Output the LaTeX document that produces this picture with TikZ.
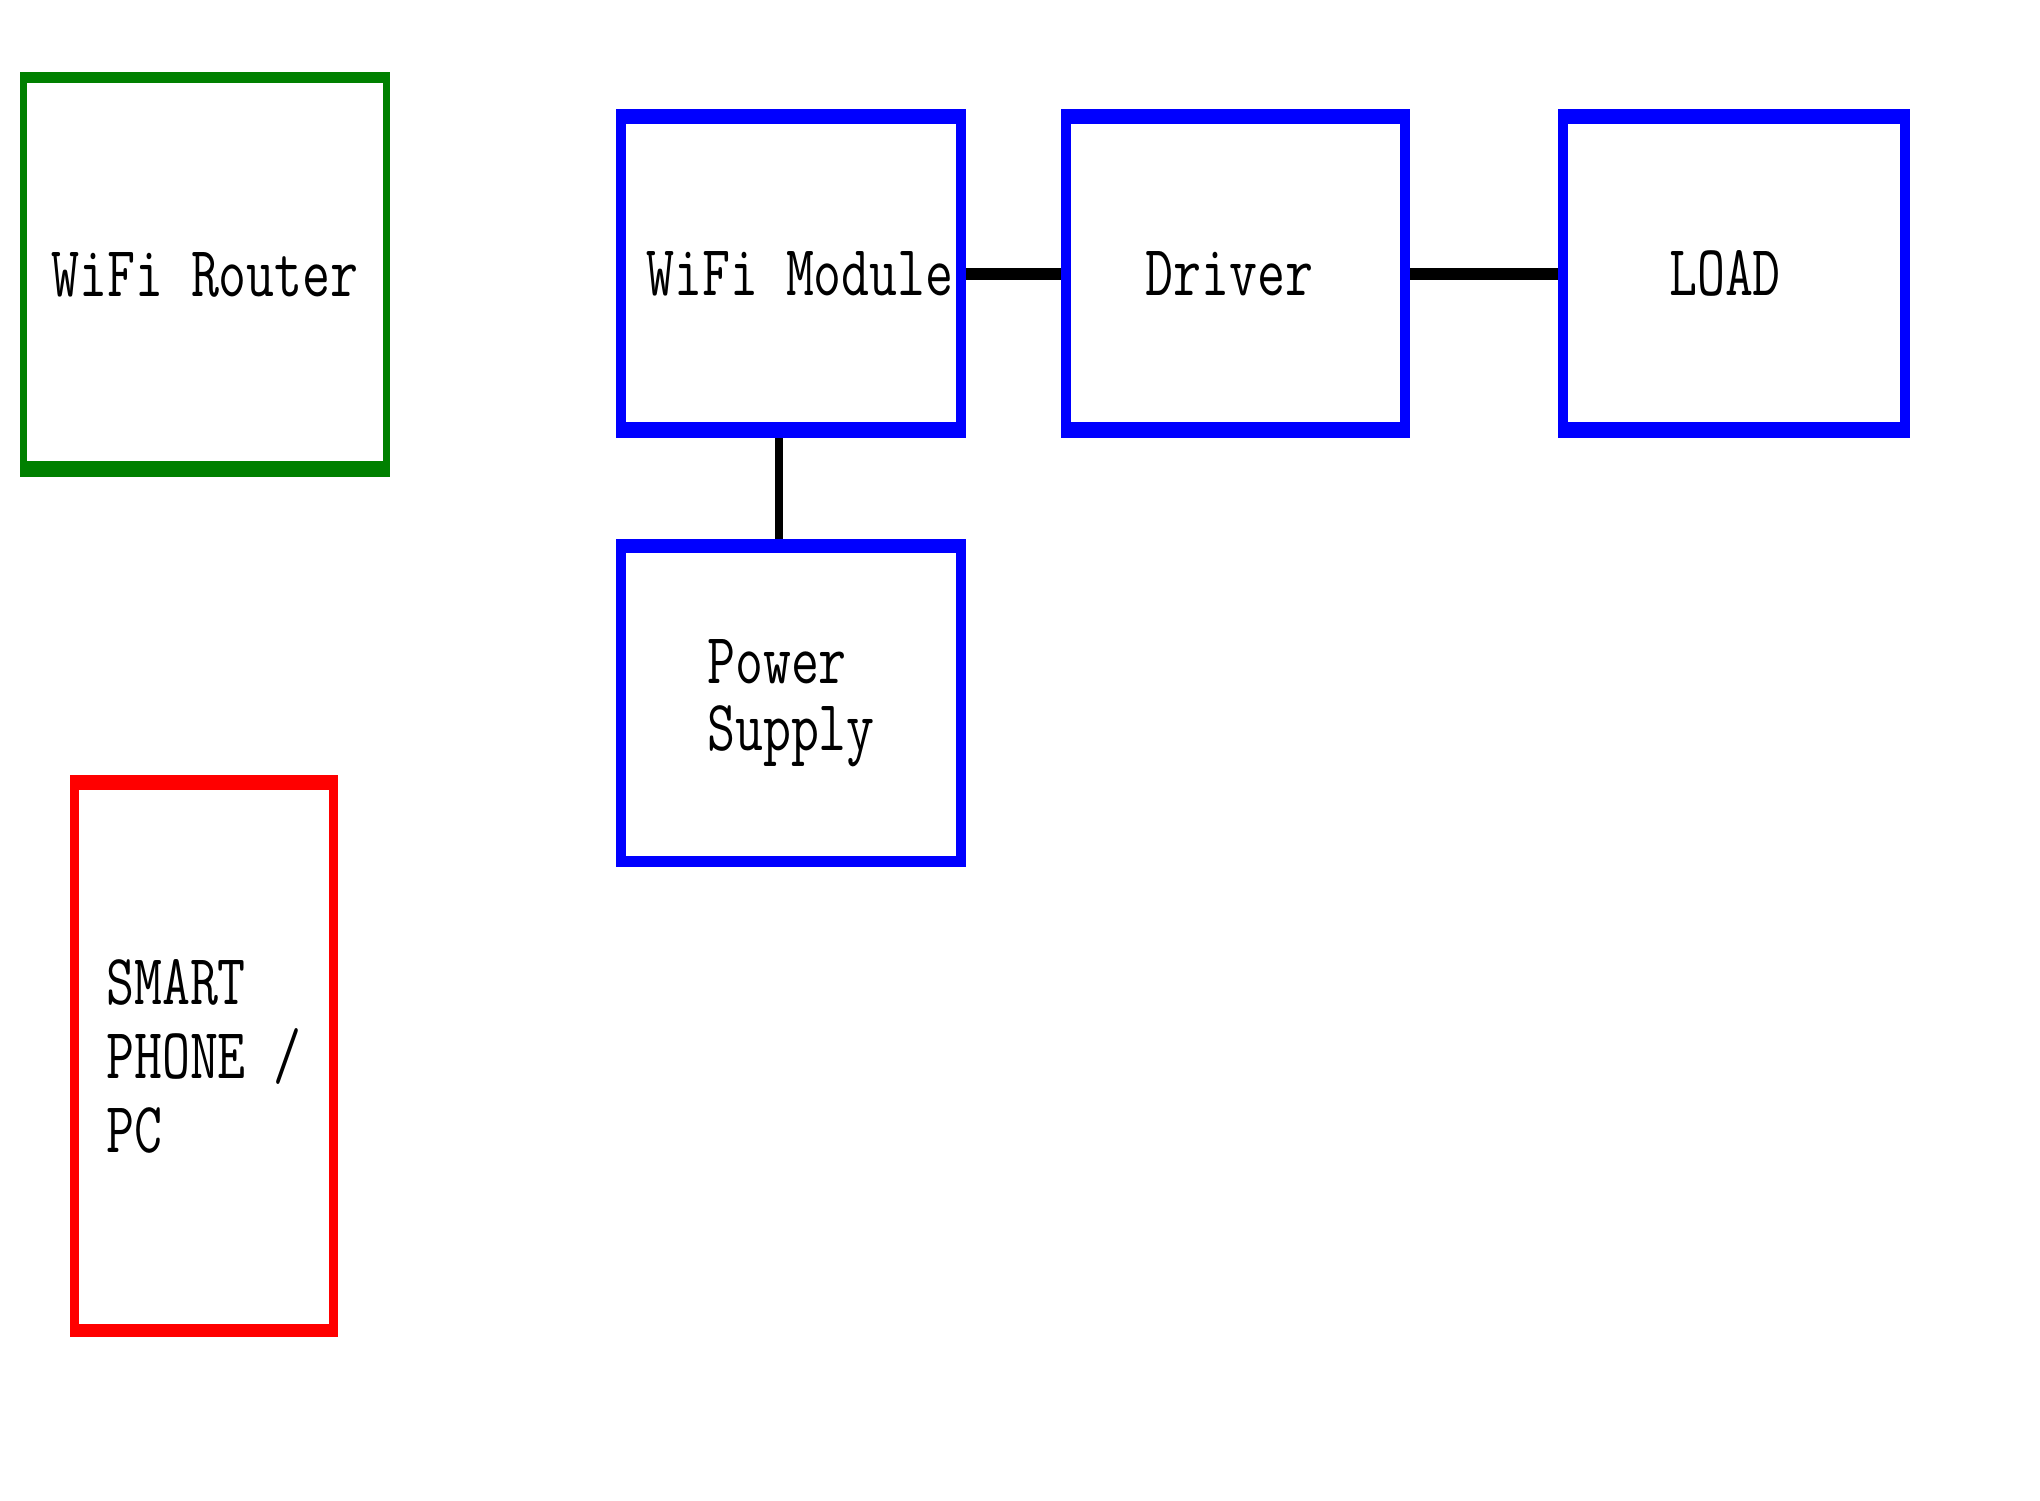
\documentclass[tikz,border=0pt]{standalone}
\usepackage{fontspec}
\usetikzlibrary{backgrounds}
\newfontfamily\diagfont[FakeStretch=0.754]{Latin Modern Mono}
\definecolor{rgreen}{RGB}{0,128,0}
\definecolor{rblue}{RGB}{0,0,255}
\definecolor{rred}{RGB}{255,0,0}
\tikzset{
  blk/.style n args={4}{draw=#1, line width=#2, inner sep=0pt, align=left,
    font=\diagfont\fontsize{72pt}{70pt}\selectfont,
    path picture={
      \fill[#1] (path picture bounding box.north west) rectangle ([yshift=-#3]path picture bounding box.north east);
      \fill[#1] (path picture bounding box.south west) rectangle ([yshift=#4]path picture bounding box.south east);
    }},
  conn/.style={draw=black, line width=#1},
}
\begin{document}
\begin{tikzpicture}[x=1pt, y=-1pt]
\useasboundingbox (0,0) rectangle (2040,1500);
\node[blk={rgreen}{7pt}{7.5pt}{12.5pt}, minimum width=363pt, minimum height=398pt] (rt) at (205,274.5) {WiFi Router};
\node[blk={rblue}{10pt}{10pt}{11pt}, minimum width=340pt, minimum height=319pt] (wm) at (791,273.5) {\hspace*{18pt}WiFi Module};
\node[blk={rblue}{10pt}{10pt}{11pt}, minimum width=339pt, minimum height=319pt] (drv) at (1235.5,273.5) {Driver\hspace*{12pt}};
\node[blk={rblue}{10pt}{10pt}{11pt}, minimum width=342pt, minimum height=319pt] (load) at (1734,273.5) {LOAD\hspace*{18pt}};
\node[blk={rblue}{10pt}{9pt}{6pt}, minimum width=340pt, minimum height=318pt,
      font=\diagfont\fontsize{72pt}{67pt}\selectfont] (ps) at (791,703) {Power\\Supply};
\node[blk={rred}{9pt}{10.5pt}{8.5pt}, minimum width=259pt, minimum height=553pt,
      font=\diagfont\fontsize{72pt}{74pt}\selectfont] (pc) at (204,1056) {SMART\\PHONE /\\PC};
\begin{pgfonlayer}{background}
  \fill[white] (0,0) rectangle (2040,1500);
  \draw[conn=12pt] (wm.east) -- (drv.west);
  \draw[conn=12pt] (drv.east) -- (load.west);
  \draw[conn=8pt] ([xshift=-12pt]wm.south) -- ([xshift=-12pt]ps.north);
\end{pgfonlayer}
\end{tikzpicture}
\end{document}
